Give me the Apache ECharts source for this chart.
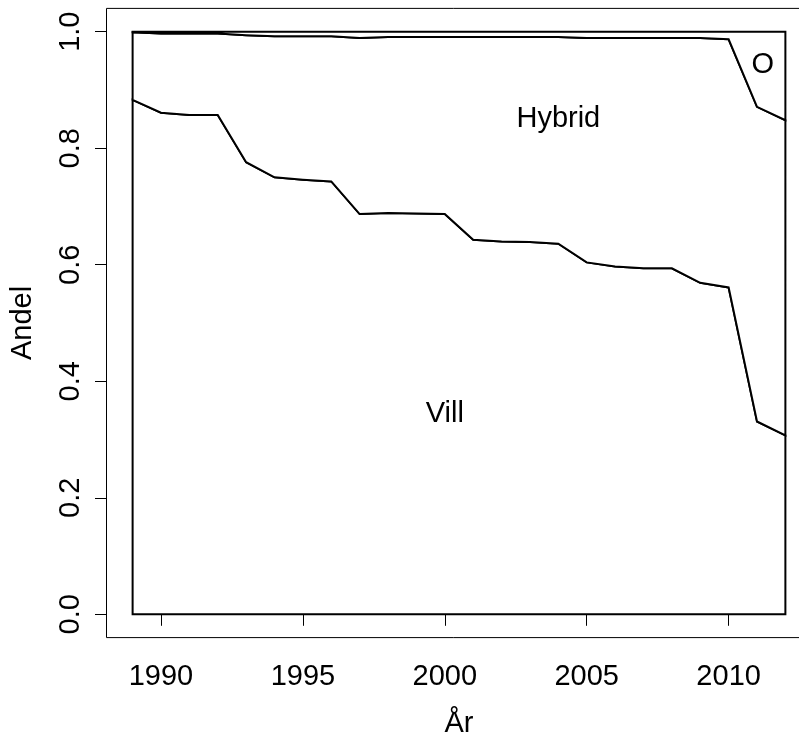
<!DOCTYPE html>
<html>
<head>
<meta charset="utf-8">
<script src="https://cdn.jsdelivr.net/npm/echarts@6/dist/echarts.min.js"></script>
<style>html,body{margin:0;padding:0;background:#fff}#c{width:799px;height:736px}</style>
</head>
<body>
<div id="c"></div>
<script>
// ---- data (shares) ----
const years  = [1989,1990,1991,1992,1993,1994,1995,1996,1997,1998,1999,2000,2001,2002,2003,2004,2005,2006,2007,2008,2009,2010,2011,2012];
const vill   = [0.883,0.861,0.857,0.857,0.776,0.750,0.746,0.743,0.687,0.689,0.688,0.687,0.643,0.640,0.639,0.636,0.604,0.597,0.594,0.594,0.569,0.561,0.331,0.307];
const hybrid = [0.116,0.136,0.140,0.140,0.218,0.242,0.246,0.249,0.302,0.302,0.303,0.304,0.348,0.351,0.352,0.355,0.385,0.392,0.395,0.395,0.420,0.426,0.540,0.541];
const other  = [0.001,0.003,0.003,0.003,0.006,0.008,0.008,0.008,0.011,0.009,0.009,0.009,0.009,0.009,0.009,0.009,0.011,0.011,0.011,0.011,0.011,0.013,0.129,0.152];
const xTicks = [1990,1995,2000,2005,2010];
const xTickLabels = ['1990','1995','2000','2005','2010'];
const yTicks = [0,0.2,0.4,0.6,0.8,1.0];
const yTickLabels = ['0.0','0.2','0.4','0.6','0.8','1.0'];
const areaLabels = ['Vill','Hybrid','O'];
const areaLabelX = [2000, 2004, 2011.2];
const areaLabelY = [0.344, 0.851, 0.943];
const xTitle = 'År';
const yTitle = 'Andel';

// ---- derived stacking bounds ----
const zero = years.map(() => 0);
const top1 = vill.slice();
const top2 = vill.map((v, i) => v + hybrid[i]);
const top3 = top2.map((v, i) => v + other[i]);

const FONT = 'Liberation Sans, Arial, Helvetica, sans-serif';
const FS = 29;

// R-style 4% axis extension
const xSpan = years[years.length - 1] - years[0];
const xMin = years[0] - 0.04 * xSpan, xMax = years[years.length - 1] + 0.04 * xSpan;
const yMin = -0.04, yMax = 1.04;

function pickLabel(ticks, labels, v) {
  let best = 0;
  for (let i = 1; i < ticks.length; i++) if (Math.abs(ticks[i] - v) < Math.abs(ticks[best] - v)) best = i;
  return labels[best];
}

function areaSeries(lo, hi, name) {
  return {
    type: 'custom', name, coordinateSystem: 'cartesian2d', silent: true, clip: false,
    data: [[years[0], lo[0]]],
    renderItem: (params, api) => {
      const pts = [];
      for (let i = 0; i < years.length; i++) pts.push(api.coord([years[i], hi[i]]));
      for (let i = years.length - 1; i >= 0; i--) pts.push(api.coord([years[i], lo[i]]));
      return { type: 'polygon', shape: { points: pts }, style: { fill: '#fff', stroke: '#000', lineWidth: 2, lineJoin: 'miter' } };
    }
  };
}

const chart = echarts.init(document.getElementById('c'), null, { renderer: 'canvas' });
chart.setOption({
  animation: false,
  backgroundColor: '#fff',
  grid: { left: 106.5, top: 8.4, width: 705, height: 629.2, show: true, borderColor: '#000', borderWidth: 1,
    backgroundColor: 'transparent', containLabel: false, outerBoundsMode: 'none' },
  xAxis: {
    type: 'value', min: xMin, max: xMax,
    splitLine: { show: false },
    axisLine: { show: false },
    axisTick: { show: true, length: 11.5, customValues: xTicks, lineStyle: { color: '#000', width: 1 } },
    axisLabel: { customValues: xTicks, margin: 24.7, fontSize: FS, color: '#000', fontFamily: FONT,
      formatter: v => pickLabel(xTicks, xTickLabels, v) },
    name: xTitle, nameLocation: 'middle', nameGap: 71.4,
    nameTextStyle: { fontSize: FS, color: '#000', fontFamily: FONT }
  },
  yAxis: {
    type: 'value', min: yMin, max: yMax,
    splitLine: { show: false },
    axisLine: { show: false },
    axisTick: { show: true, length: 11.5, customValues: yTicks, lineStyle: { color: '#000', width: 1 } },
    axisLabel: { customValues: yTicks, rotate: 90, margin: 20.8, fontSize: FS, color: '#000', fontFamily: FONT,
      formatter: v => pickLabel(yTicks, yTickLabels, v) },
    name: yTitle, nameLocation: 'middle', nameGap: 69.2, nameRotate: 90,
    nameTextStyle: { fontSize: FS, color: '#000', fontFamily: FONT }
  },
  series: [
    areaSeries(zero, top1, 'Vill'),
    areaSeries(top1, top2, 'Hybrid'),
    areaSeries(top2, top3, 'O'),
    {
      type: 'custom', coordinateSystem: 'cartesian2d', silent: true, clip: false,
      data: areaLabelX.map((x, i) => [x, areaLabelY[i]]),
      renderItem: (params, api) => {
        const p = api.coord([api.value(0), api.value(1)]);
        return { type: 'text', x: p[0], y: p[1],
          style: { text: areaLabels[params.dataIndex], fontSize: FS, fontFamily: FONT, fill: '#000', align: 'center', verticalAlign: 'middle' } };
      }
    }
  ]
});
</script>
</body>
</html>
